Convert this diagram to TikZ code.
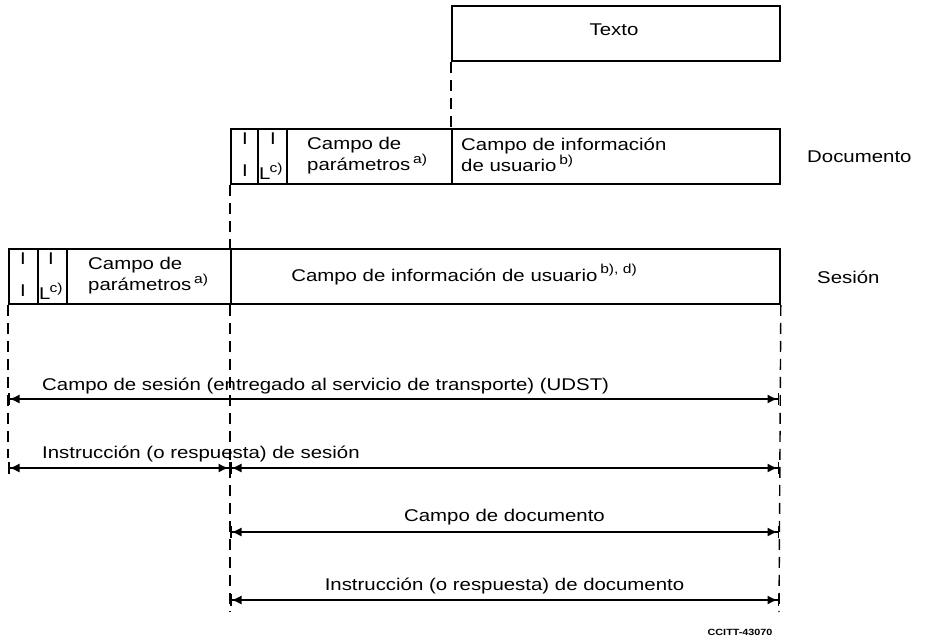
\documentclass[tikz,border=0pt]{standalone}
\usepackage{fontspec}
\setmainfont{Liberation Sans}[FakeStretch=1.2]
\usetikzlibrary{arrows.meta,positioning}

\newcommand\upnote[1]{\raisebox{0.42em}{\fontsize{13}{13}\selectfont #1}}

\begin{document}
\begin{tikzpicture}[x=1pt,y=-1pt,
  box/.style={draw,line width=1.8pt,minimum height=55pt,inner sep=0pt,anchor=north west},
  guide/.style={line width=1.4pt,dash pattern=on 11pt off 7pt},
  span/.style={line width=1.5pt,{Bar[width=12pt]Latex[length=10pt,width=9pt]}-{Latex[length=10pt,width=9pt]Bar[width=12pt]}},
  lbl/.style={font=\fontsize{17}{18}\selectfont,inner sep=1pt},
  lmark/.style={font=\fontsize{17}{18}\selectfont,inner sep=0pt}]
\useasboundingbox (0,0) rectangle (925,641);

% text unit
\node[box,minimum width=328pt,lbl] (texto) at (451,5) {};
\node[lbl] at (614,30) {Texto};

% document level
\node[box,minimum width=27pt] (dI) at (230,128) {};
\node[box,minimum width=29pt] (dL) at (257,128) {};
\node[box,minimum width=165pt] (dpar) at (286,128) {};
\node[box,minimum width=328pt] (dinfo) at (451,128) {};
\node[lmark] at (245,139) {I};
\node[lmark] at (245,171) {I};
\node[lmark] at (273,139) {I};
\node[lmark,anchor=west] at (259,171) {L\kern-1pt\upnote{c)}};
\node[lbl,anchor=north west,align=left,inner sep=0pt] at (307,137) {Campo de\\parámetros\,\upnote{a)}};
\node[lbl,anchor=north west,align=left,inner sep=0pt] at (461,138) {Campo de información\\de usuario\,\upnote{b)}};
\node[lbl,anchor=west] (docu) at (806,157) {Documento};

% session level
\node[box,minimum width=29pt] (sI) at (8,248) {};
\node[box,minimum width=29pt] (sL) at (37,248) {};
\node[box,minimum width=164pt] (spar) at (66,248) {};
\node[box,minimum width=549pt] (sinfo) at (230,248) {};
\node[lmark] at (23,259) {I};
\node[lmark] at (23,291) {I};
\node[lmark] at (51,259) {I};
\node[lmark,anchor=west] at (39,291) {L\kern-1pt\upnote{c)}};
\node[lbl,anchor=north west,align=left,inner sep=0pt] at (88,257) {Campo de\\parámetros\,\upnote{a)}};
\node[lbl,anchor=base] at (464,281) {Campo de información de usuario\,\upnote{b), d)}};
\node[lbl,anchor=west] (sesi) at (816,277) {Sesión};

% guide lines
\coordinate (gl) at (8,458);
\coordinate (gm) at (230,612);
\coordinate (gr) at (779,612);
\draw[guide] (texto.south west) -- (dinfo.north west);
\draw[guide] (dI.south west) -- (sinfo.north west);
\draw[guide] (sI.south west) -- (gl);
\draw[guide] (sinfo.south west) -- (gm);
\draw[guide] (sinfo.south east) -- (gr);

% dimension arrows
\coordinate (a1l) at (8,399);  \coordinate (a1r) at (779,399);
\coordinate (a2l) at (8,468);  \coordinate (a2m) at (230,468);  \coordinate (a2r) at (779,468);
\coordinate (a3l) at (230,532); \coordinate (a3r) at (779,532);
\coordinate (a4l) at (230,600); \coordinate (a4r) at (779,600);
\draw[span] (a1l) -- (a1r);
\node[lbl,anchor=base west] at (41,390) {Campo de sesión (entregado al servicio de transporte) (UDST)};
\draw[span] (a2l) -- (a2m);
\draw[span] (a2m) -- (a2r);
\node[lbl,anchor=base west] at (41,458) {Instrucción (o respuesta) de sesión};
\draw[span] (a3l) -- node[lbl,above=5pt] {Campo de documento} (a3r);
\draw[span] (a4l) -- node[lbl,above=4pt] {Instrucción (o respuesta) de documento} (a4r);

\node[font=\fontsize{9}{10}\selectfont\bfseries,anchor=east] (ref) at (776,632) {CCITT-43070};
\end{tikzpicture}
\end{document}
